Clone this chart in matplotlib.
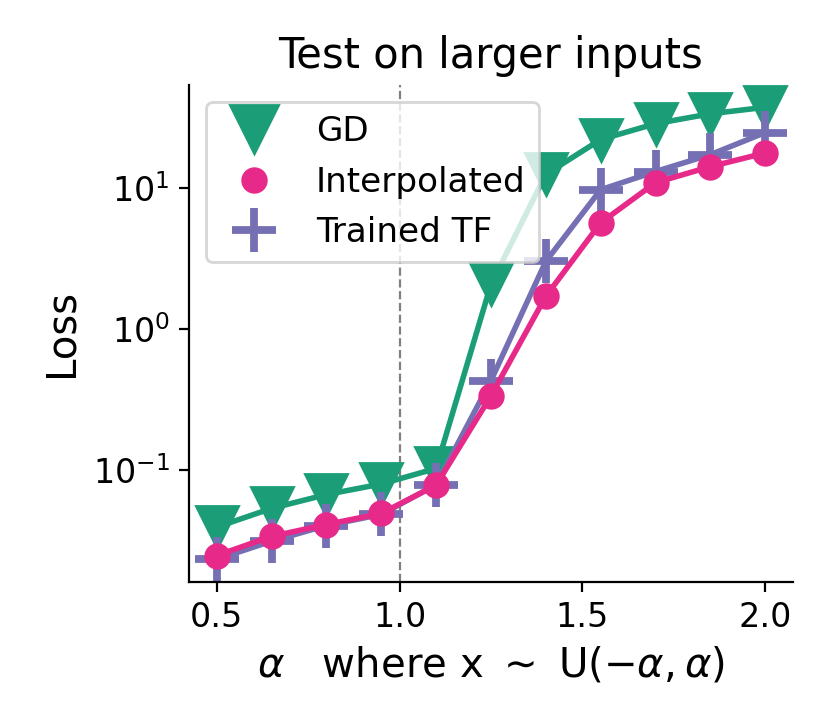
import numpy as np
import matplotlib.pyplot as plt
from matplotlib.lines import Line2D

alphas = [0.5, 0.65, 0.8, 0.95, 1.1, 1.25, 1.4, 1.55, 1.7, 1.85, 2.0]
loss_gd = [0.039, 0.053, 0.0665, 0.079, 0.102, 2.08, 12.6, 22.3, 28.9, 34.0, 37.8]
loss_interp = [0.0245, 0.0335, 0.0407, 0.0488, 0.0775, 0.335, 1.71, 5.7, 11.0, 14.3, 17.9]
loss_tf = [0.023, 0.031, 0.040, 0.048, 0.078, 0.43, 3.03, 9.8, 13.2, 17.4, 25.0]

c_gd, c_interp, c_tf = '#1b9e77', '#e7298a', '#7570b3'

fig = plt.figure(figsize=(4.15, 3.635), dpi=200)
ax = fig.add_axes([0.228, 0.1995, 0.727, 0.684])

ax.axvline(1.0, color='grey', ls='--', lw=0.8)
# drawing order: GD, Trained TF, then Interpolated on top
ax.plot(alphas, loss_gd, color=c_gd, marker='v', ms=15, lw=2)
ax.plot(alphas, loss_tf, color=c_tf, marker='+', ms=16, mew=2.8, lw=2)
ax.plot(alphas, loss_interp, color=c_interp, marker='o', ms=8.5, lw=2)

ax.set_yscale('log')
ax.minorticks_off()
ax.set_xticks([0.5, 1.0, 1.5, 2.0])
ax.tick_params(labelsize=12)
ax.spines['top'].set_visible(False)
ax.spines['right'].set_visible(False)

ax.set_title('Test on larger inputs', fontsize=15)
ax.set_ylabel('Loss', fontsize=14.5)
ax.set_xlabel(r'$\alpha$   where x $\sim$ U$(-\alpha, \alpha)$', fontsize=14.5)

# legend shows markers only
handles = [
    Line2D([], [], ls='none', color=c_gd, marker='v', ms=17),
    Line2D([], [], ls='none', color=c_interp, marker='o', ms=8.5),
    Line2D([], [], ls='none', color=c_tf, marker='+', ms=16, mew=2.8),
]
ax.legend(handles, ['GD', 'Interpolated', 'Trained TF'], loc='upper left', fontsize=12.3)

fig.savefig('out.png', dpi=200)
